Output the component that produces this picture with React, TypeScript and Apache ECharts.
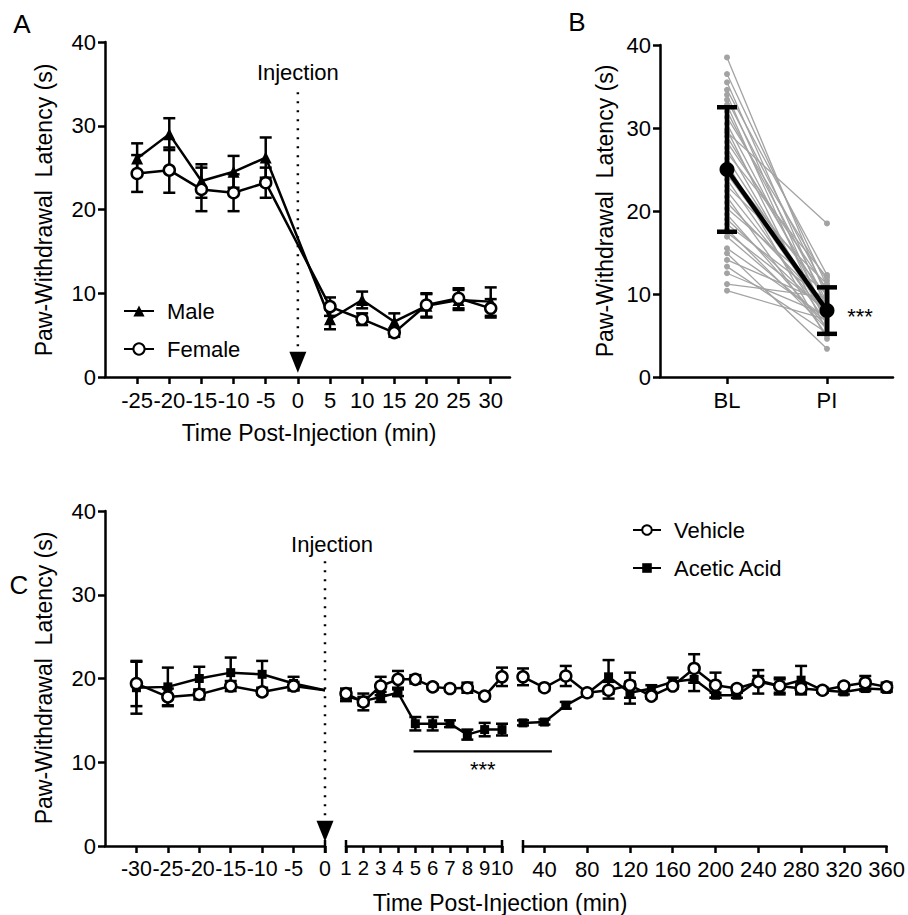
import React, { useEffect, useRef } from 'react';
import * as echarts from 'echarts';

const FONT = '"Liberation Sans", Arial, Helvetica, sans-serif';

// ---------- Panel A ----------
const timesA = [-25, -20, -15, -10, -5, 5, 10, 15, 20, 25, 30];
const ticksA = [-25, -20, -15, -10, -5, 0, 5, 10, 15, 20, 25, 30];
const maleMean = [26.1, 29.0, 23.4, 24.5, 26.2, 6.9, 9.2, 6.6, 8.5, 9.2, 9.0];
const maleSem = [1.8, 1.9, 2.0, 1.9, 2.4, 1.2, 1.0, 1.0, 1.4, 1.2, 1.7];
const femaleMean = [24.3, 24.7, 22.4, 22.0, 23.2, 8.4, 6.9, 5.3, 8.6, 9.4, 8.2];
const femaleSem = [2.2, 2.7, 2.6, 2.2, 1.8, 1.1, 0.7, 0.5, 1.4, 1.2, 1.1];

// ---------- Panel B ----------
const bCategories = ['BL', 'PI'];
const blValues = [38.5, 36.5, 35.5, 34.6, 34.0, 33.4, 32.8, 32.0, 31.3, 30.5, 29.8, 29.5, 29.0, 28.3, 27.6, 27.0, 26.3, 25.8, 25.0, 24.4, 23.8, 23.0, 22.4, 21.7, 21.0, 20.3, 19.6, 19.0, 18.4, 17.8, 17.4, 16.9, 15.5, 14.9, 14.1, 13.3, 12.5, 11.2, 10.4, 24.6];
const piValues = [9.5, 11.0, 8.2, 12.3, 7.0, 10.2, 6.2, 9.0, 11.6, 7.6, 5.5, 18.5, 8.8, 10.6, 6.8, 12.0, 7.9, 4.6, 9.8, 8.4, 6.5, 11.2, 7.3, 5.0, 8.6, 10.0, 6.0, 7.7, 9.2, 5.8, 8.0, 6.6, 7.1, 3.4, 8.9, 5.3, 7.4, 9.6, 6.9, 7.5];
const bMeans = [25.0, 8.0];
const bSd = [7.5, 2.8];

// ---------- Panel C ----------
const seg1Times = [-30, -25, -20, -15, -10, -5, 0];
const seg1Ticks = [-30, -25, -20, -15, -10, -5, 0];
const vehicle1 = [19.4, 17.8, 18.1, 19.1, 18.4, 19.1, 18.6];
const vehicle1Sem = [2.7, 1.0, 0.6, 0.6, 0.3, 0.5, null];
const acid1 = [18.9, 19.0, 20.0, 20.7, 20.5, 19.4, 18.6];
const acid1Sem = [3.1, 2.3, 1.4, 1.8, 1.6, 0.8, null];

const seg2Times = [1, 2, 3, 4, 5, 6, 7, 8, 9, 10];
const vehicle2 = [18.2, 17.2, 19.1, 19.9, 19.9, 19.0, 18.8, 18.9, 17.9, 20.2];
const vehicle2Sem = [0.6, 1.0, 1.1, 1.0, 0.5, 0.3, 0.3, 0.6, 0.3, 1.1];
const acid2 = [17.9, 17.3, 17.8, 18.3, 14.6, 14.6, 14.6, 13.3, 13.9, 13.9];
const acid2Sem = [0.6, 0.5, 0.6, 0.4, 0.8, 0.8, 0.4, 0.6, 0.8, 0.7];

const seg3Times = [20, 40, 60, 80, 100, 120, 140, 160, 180, 200, 220, 240, 260, 280, 300, 320, 340, 360];
const seg3Ticks = [40, 80, 120, 160, 200, 240, 280, 320, 360];
const vehicle3 = [20.2, 18.9, 20.3, 18.3, 18.6, 19.2, 17.9, 19.1, 21.2, 19.2, 18.8, 19.6, 19.1, 18.8, 18.6, 19.1, 19.5, 19.0];
const vehicle3Sem = [1.0, 0.3, 1.2, 0.3, 1.0, 1.5, 0.3, 0.3, 1.7, 1.5, 0.3, 1.4, 1.0, 0.5, 0.3, 0.3, 0.8, 0.5];
const acid3 = [14.7, 14.8, 16.8, 18.2, 20.2, 18.3, 18.8, 19.6, 19.9, 18.0, 18.0, 19.8, 19.1, 19.8, 18.6, 18.4, 18.8, 18.7];
const acid3Sem = [0.3, 0.3, 0.4, 0.3, 2.0, 1.3, 0.4, 0.5, 1.4, 0.3, 0.3, 0.5, 0.8, 1.7, 0.3, 0.3, 0.3, 0.3];

const yTicks = [0, 10, 20, 30, 40];

const BLACK = '#000';
const GRAY = '#a3a3a3';
const TICK_FONT = 22;
const TITLE_FONT = 23;
const TEXT_FONT = 22;

function errSeries(xs: number[], means: number[], sems: (number | null)[], ai: number, capW: number, lw: number, z: number) {
  const data: number[][] = [];
  xs.forEach((x, i) => {
    const s = sems[i];
    if (s != null) data.push([x, means[i], s]);
  });
  return {
    type: 'custom',
    xAxisIndex: ai,
    yAxisIndex: ai,
    z,
    silent: true,
    clip: false,
    encode: { x: 0, y: 1 },
    data,
    renderItem: (_p: any, api: any) => {
      const x = api.value(0);
      const y = api.value(1);
      const e = api.value(2);
      const top = api.coord([x, y + e]);
      const bot = api.coord([x, y - e]);
      const style = { stroke: BLACK, lineWidth: lw, fill: null };
      return {
        type: 'group',
        children: [
          { type: 'line', shape: { x1: top[0], y1: top[1], x2: bot[0], y2: bot[1] }, style },
          { type: 'line', shape: { x1: top[0] - capW / 2, y1: top[1], x2: top[0] + capW / 2, y2: top[1] }, style },
          { type: 'line', shape: { x1: bot[0] - capW / 2, y1: bot[1], x2: bot[0] + capW / 2, y2: bot[1] }, style },
        ],
      };
    },
  };
}

function meanSeries(name: string, xs: number[], means: number[], ai: number, kind: 'circle' | 'triangle' | 'rect', noSymbolAt0 = false) {
  const symbolSize = kind === 'circle' ? 11 : kind === 'triangle' ? 12 : 9;
  return {
    type: 'line',
    name,
    xAxisIndex: ai,
    yAxisIndex: ai,
    z: 3,
    symbol: kind,
    symbolSize,
    showAllSymbol: true,
    clip: false,
    lineStyle: { color: BLACK, width: 2.5 },
    itemStyle: kind === 'circle'
      ? { color: '#fff', borderColor: BLACK, borderWidth: 2.5 }
      : { color: BLACK, borderColor: BLACK, borderWidth: 0 },
    data: xs.map((x, i) => (noSymbolAt0 && x === 0 ? { value: [x, means[i]], symbol: 'none' } : [x, means[i]])),
  };
}

function injectionSeries(ai: number) {
  return [
    {
      type: 'line',
      xAxisIndex: ai,
      yAxisIndex: ai,
      z: 1,
      symbol: 'none',
      silent: true,
      lineStyle: { color: BLACK, width: 2.5, type: [2, 7] },
      data: [[0, 34], [0, 3.0]],
    },
    {
      type: 'scatter',
      xAxisIndex: ai,
      yAxisIndex: ai,
      z: 1,
      silent: true,
      symbol: 'triangle',
      symbolRotate: 180,
      symbolSize: [17, 21],
      itemStyle: { color: BLACK, opacity: 1, borderWidth: 0 },
      data: [[0, 1.75]],
    },
  ];
}

const axisLineStyle = { color: BLACK, width: 2.5 };
const tickStyle = { color: BLACK, width: 2.5 };
const labelBase = { color: BLACK, fontSize: TICK_FONT, fontFamily: FONT };

function xAxisDef(gi: number, min: number, max: number, tickVals: number[], labelVals: number[], fontSize: number, formatter?: (v: number) => string) {
  return {
    type: 'value',
    gridIndex: gi,
    min,
    max,
    splitLine: { show: false },
    axisLine: { show: true, onZero: false, lineStyle: axisLineStyle },
    axisTick: { show: true, length: 7, lineStyle: tickStyle, customValues: tickVals },
    axisLabel: {
      ...labelBase,
      fontSize,
      margin: 12,
      hideOverlap: false,
      showMinLabel: true,
      showMaxLabel: true,
      customValues: labelVals,
      formatter: formatter || ((v: number) => String(v)),
    },
  };
}

function yAxisDef(gi: number, show: boolean) {
  return {
    type: 'value',
    gridIndex: gi,
    min: 0,
    max: 40,
    interval: 10,
    show,
    splitLine: { show: false },
    axisLine: { show: true, onZero: false, lineStyle: axisLineStyle },
    axisTick: { show: true, length: 7, lineStyle: tickStyle },
    axisLabel: { ...labelBase, margin: 9, showMinLabel: true, showMaxLabel: true, customValues: yTicks },
  };
}

const legendText = { fontSize: TEXT_FONT, fontFamily: FONT, color: BLACK, lineHeight: 22, padding: [0, 0, 0, 8] };

export default function App() {
  const ref = useRef<HTMLDivElement>(null);
  useEffect(() => {
    if (!ref.current) return;
    const chart = echarts.init(ref.current, null, { renderer: 'svg' });

    const subjectSeries = blValues.map((bl, i) => ({
      type: 'line',
      xAxisIndex: 1,
      yAxisIndex: 1,
      z: 2,
      silent: true,
      symbol: 'circle',
      symbolSize: 6,
      lineStyle: { color: GRAY, width: 1.3 },
      itemStyle: { color: GRAY },
      data: [[0, bl], [1, piValues[i]]],
    }));

    const option: any = {
      animation: false,
      backgroundColor: '#fff',
      textStyle: { fontFamily: FONT },
      grid: [
        { left: 105, top: 42, width: 405, height: 335 },
        { left: 660, top: 45, width: 233, height: 332 },
        { left: 105, top: 511, width: 220, height: 335 },
        { left: 346, top: 511, width: 156, height: 335 },
        { left: 523, top: 511, width: 365, height: 335 },
      ],
      xAxis: [
        xAxisDef(0, -30, 33, ticksA, ticksA, 22),
        xAxisDef(1, -0.67, 1.66, [0, 1], [0, 1], 22, (v: number) => bCategories[Math.round(v)]),
        xAxisDef(2, -35, 0, seg1Ticks, seg1Ticks, 21.4),
        xAxisDef(3, 1, 10, seg2Times, seg2Times, 20.4),
        xAxisDef(4, 20, 360, seg3Ticks, seg3Ticks, 22),
      ],
      yAxis: [yAxisDef(0, true), yAxisDef(1, true), yAxisDef(2, true), yAxisDef(3, false), yAxisDef(4, false)],
      legend: [
        {
          data: ['Male', 'Female'],
          orient: 'vertical',
          left: 118,
          top: 295,
          itemWidth: 30,
          itemHeight: 14,
          itemGap: 16,
          selectedMode: false,
          textStyle: legendText,
        },
        {
          data: ['Vehicle', 'Acetic Acid'],
          orient: 'vertical',
          left: 627,
          top: 514,
          itemWidth: 28,
          itemHeight: 12,
          itemGap: 16,
          selectedMode: false,
          textStyle: legendText,
        },
      ],
      series: [
        // Panel A
        ...injectionSeries(0),
        errSeries(timesA, maleMean, maleSem, 0, 12, 2.5, 2),
        errSeries(timesA, femaleMean, femaleSem, 0, 12, 2.5, 2),
        meanSeries('Male', timesA, maleMean, 0, 'triangle'),
        meanSeries('Female', timesA, femaleMean, 0, 'circle'),
        // Panel B
        ...subjectSeries,
        errSeries([0, 1], bMeans, bSd, 1, 20, 4.5, 4),
        {
          type: 'line',
          xAxisIndex: 1,
          yAxisIndex: 1,
          z: 5,
          symbol: 'circle',
          symbolSize: 15,
          lineStyle: { color: BLACK, width: 4.5 },
          itemStyle: { color: BLACK },
          data: [[0, bMeans[0]], [1, bMeans[1]]],
        },
        // Panel C
        ...injectionSeries(2),
        errSeries(seg1Times, vehicle1, vehicle1Sem, 2, 12, 2.5, 2),
        errSeries(seg1Times, acid1, acid1Sem, 2, 12, 2.5, 2),
        meanSeries('Acetic Acid', seg1Times, acid1, 2, 'rect', true),
        meanSeries('Vehicle', seg1Times, vehicle1, 2, 'circle', true),
        errSeries(seg2Times, vehicle2, vehicle2Sem, 3, 12, 2.5, 2),
        errSeries(seg2Times, acid2, acid2Sem, 3, 12, 2.5, 2),
        meanSeries('Acetic Acid', seg2Times, acid2, 3, 'rect'),
        meanSeries('Vehicle', seg2Times, vehicle2, 3, 'circle'),
        errSeries(seg3Times, vehicle3, vehicle3Sem, 4, 12, 2.5, 2),
        errSeries(seg3Times, acid3, acid3Sem, 4, 12, 2.5, 2),
        meanSeries('Acetic Acid', seg3Times, acid3, 4, 'rect'),
        meanSeries('Vehicle', seg3Times, vehicle3, 4, 'circle'),
      ],
    };
    chart.setOption(option);

    const px = (ai: number, v: number[]) => chart.convertToPixel({ xAxisIndex: ai, yAxisIndex: ai } as any, v) as number[];
    const capStyle = { stroke: BLACK, lineWidth: 2.5 };
    const cap = (id: string, ai: number, x: number) => {
      const p = px(ai, [x, 0]);
      return { id, type: 'line', z: 10, shape: { x1: p[0], y1: p[1] - 6, x2: p[0], y2: p[1] + 7 }, style: capStyle };
    };
    const txt = (id: string, x: number, y: number, text: string, fontSize: number, rotation = 0) => ({
      id,
      type: 'text',
      x,
      y,
      rotation,
      z: 10,
      style: { text, fontSize, fontFamily: FONT, fill: BLACK, align: 'center', verticalAlign: 'middle' },
    });

    const injA = px(0, [0, 34]);
    const injC = px(2, [0, 34]);
    const sigStart = px(3, [4.9, 11.3]);
    const sigEnd = px(4, [47, 11.3]);
    const piPt = px(1, [1, bMeans[1]]);

    chart.setOption({
      graphic: {
        elements: [
          txt('lblA', 22, 24, 'A', 26),
          txt('lblB', 577, 22, 'B', 26),
          txt('lblC', 19, 585, 'C', 26),
          txt('yA', 44, 210, 'Paw-Withdrawal  Latency (s)', TITLE_FONT, Math.PI / 2),
          txt('yB', 605, 211, 'Paw-Withdrawal  Latency (s)', TITLE_FONT, Math.PI / 2),
          txt('yC', 44, 678, 'Paw-Withdrawal  Latency (s)', TITLE_FONT, Math.PI / 2),
          txt('xA', 309, 433, 'Time Post-Injection (min)', TITLE_FONT),
          txt('xC', 500, 903, 'Time Post-Injection (min)', TITLE_FONT),
          txt('injA', injA[0], injA[1] - 20, 'Injection', TEXT_FONT),
          txt('injC', injC[0] + 7, injC[1] - 17, 'Injection', TEXT_FONT),
          txt('starB', piPt[0] + 33, piPt[1] + 6, '***', 22),
          txt('starC', (sigStart[0] + sigEnd[0]) / 2, sigStart[1] + 18, '***', 22),
          {
            id: 'sigLine',
            type: 'line',
            z: 10,
            shape: { x1: sigStart[0], y1: sigStart[1], x2: sigEnd[0], y2: sigEnd[1] },
            style: { stroke: BLACK, lineWidth: 2.2 },
          },
          cap('c1', 2, 0),
          cap('c2', 3, 1),
          cap('c3', 3, 10),
          cap('c4', 4, 20),
        ],
      },
    });

    return () => chart.dispose();
  }, []);
  return <div ref={ref} style={{ position: 'fixed', left: 0, top: 0, width: 908, height: 915, background: '#fff' }} />;
}
